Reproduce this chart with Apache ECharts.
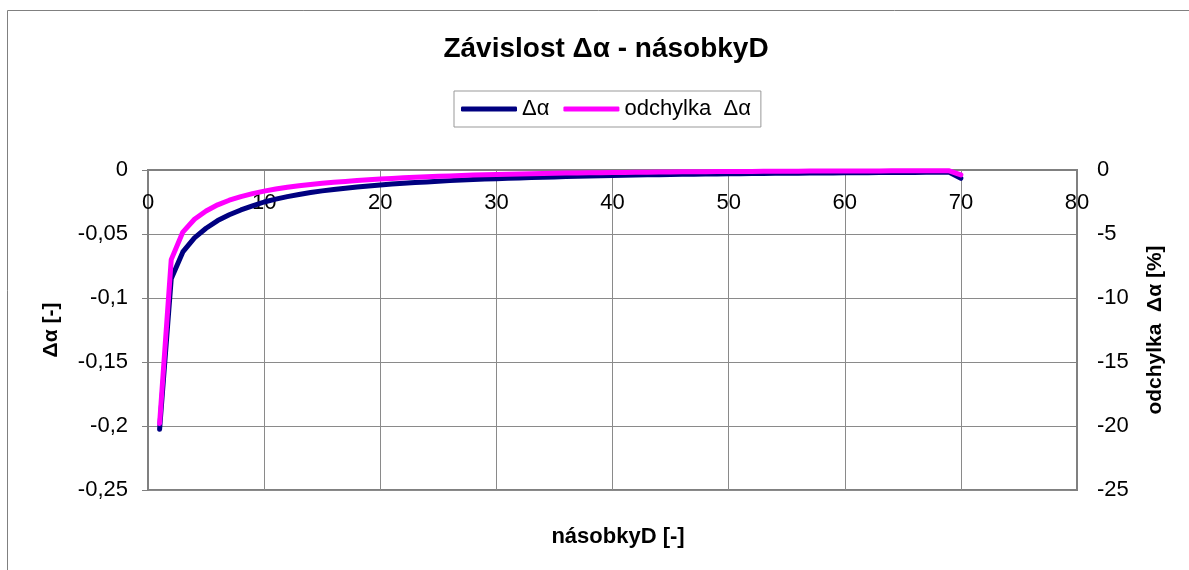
<!DOCTYPE html>
<html>
<head>
<meta charset="utf-8">
<script src="https://cdn.jsdelivr.net/npm/echarts@6/dist/echarts.min.js"></script>
<style>
  html, body { margin: 0; padding: 0; background: #fff; }
  #chart { width: 1189px; height: 570px; }
</style>
</head>
<body>
<div id="chart"></div>
<script>
const FONT = '"Liberation Sans", Arial, sans-serif';

const nasobkyD = [
  1, 2, 3, 4, 5, 6, 7, 8, 9, 10, 11, 12, 13, 14, 15, 16, 17, 18, 19, 20,
  21, 22, 23, 24, 25, 26, 27, 28, 29, 30, 31, 32, 33, 34, 35, 36, 37, 38, 39, 40,
  41, 42, 43, 44, 45, 46, 47, 48, 49, 50, 51, 52, 53, 54, 55, 56, 57, 58, 59, 60,
  61, 62, 63, 64, 65, 66, 67, 68, 69, 70
];

const deltaAlpha = [
  -0.2025, -0.085, -0.064, -0.053, -0.0455, -0.0395, -0.035, -0.0312, -0.028, -0.025,
  -0.0228, -0.0208, -0.0191, -0.0176, -0.0163, -0.0152, -0.0142, -0.0133, -0.0125, -0.0117,
  -0.011, -0.0104, -0.0098, -0.0093, -0.0088, -0.0083, -0.0079, -0.0075, -0.0071, -0.0068,
  -0.0065, -0.0062, -0.0059, -0.0056, -0.0054, -0.0051, -0.0049, -0.0047, -0.0045, -0.0043,
  -0.0041, -0.004, -0.0038, -0.0037, -0.0035, -0.0034, -0.0033, -0.0032, -0.0031, -0.003,
  -0.0029, -0.0028, -0.0027, -0.0026, -0.0025, -0.0025, -0.0024, -0.0023, -0.0023, -0.0022,
  -0.0021, -0.0021, -0.002, -0.002, -0.0019, -0.0019, -0.0018, -0.0018, -0.0018, -0.0065
];

// odchylka v procentech
const odchylka = [
  -19.8, -7.0, -4.85, -3.85, -3.2, -2.72, -2.36, -2.08, -1.85, -1.65,
  -1.49, -1.35, -1.23, -1.13, -1.04, -0.96, -0.89, -0.82, -0.76, -0.71,
  -0.66, -0.61, -0.57, -0.53, -0.49, -0.46, -0.43, -0.4, -0.37, -0.35,
  -0.33, -0.31, -0.29, -0.27, -0.26, -0.24, -0.23, -0.22, -0.21, -0.2,
  -0.19, -0.18, -0.17, -0.16, -0.15, -0.145, -0.14, -0.13, -0.125, -0.12,
  -0.115, -0.11, -0.105, -0.1, -0.095, -0.09, -0.087, -0.084, -0.081, -0.078,
  -0.075, -0.072, -0.07, -0.068, -0.066, -0.064, -0.062, -0.06, -0.06, -0.38
];

const chart = echarts.init(document.getElementById("chart"));

const gridColor = "#8a8a8a";
const axisColor = "#808080";

function commaLabel(v) {
  return String(+Number(v).toFixed(2)).replace(".", ",");
}

chart.setOption({
  animation: false,
  backgroundColor: "#fff",
  textStyle: { fontFamily: FONT },
  graphic: [
    {
      type: "rect",
      shape: { x: 7.5, y: 10.5, width: 1400, height: 800 },
      style: { fill: "none", stroke: "#808080", lineWidth: 1 },
      silent: true,
    },
  ],
  title: [
    {
      text: "Závislost Δα - násobkyD",
      left: 601,
      textAlign: "center",
      top: 30,
      textStyle: { fontFamily: FONT, fontSize: 28, fontWeight: "bold", color: "#000" },
    },
    {
      text: "násobkyD [-]",
      left: 613,
      textAlign: "center",
      top: 521,
      textStyle: { fontFamily: FONT, fontSize: 22, fontWeight: "bold", color: "#000" },
    },
  ],
  legend: {
    left: 454,
    top: 91,
    padding: [7, 10, 7, 7],
    itemGap: 14,
    itemWidth: 56,
    itemHeight: 5,
    icon: "roundRect",
    borderColor: "#999",
    borderWidth: 1,
    textStyle: { fontFamily: FONT, fontSize: 22, color: "#000" },
    data: ["Δα", "odchylka  Δα"],
  },
  grid: {
    left: 148,
    right: 112,
    top: 170,
    bottom: 80,
    show: true,
    borderColor: axisColor,
    borderWidth: 2,
  },
  xAxis: {
    type: "value",
    position: "top",
    min: 0,
    max: 80,
    interval: 10,
    axisLine: { show: true, lineStyle: { color: axisColor, width: 2 } },
    axisTick: { show: false },
    axisLabel: {
      inside: true,
      margin: 22,
      showMinLabel: true,
      showMaxLabel: true,
      fontFamily: FONT,
      fontSize: 22,
      color: "#000",
    },
    splitLine: { show: true, lineStyle: { color: gridColor, width: 1 } },
  },
  yAxis: [
    {
      type: "value",
      min: -0.25,
      max: 0,
      interval: 0.05,
      name: "Δα [-]",
      nameLocation: "middle",
      nameGap: 86,
      nameTextStyle: { fontFamily: FONT, fontSize: 21, fontWeight: "bold", color: "#000" },
      axisLine: { show: true, lineStyle: { color: axisColor, width: 2 } },
      axisTick: { show: true, length: 6, lineStyle: { color: axisColor, width: 1 } },
      axisLabel: {
        margin: 20,
        fontFamily: FONT,
        fontSize: 22,
        color: "#000",
        formatter: commaLabel,
      },
      splitLine: { show: true, lineStyle: { color: gridColor, width: 1 } },
    },
    {
      type: "value",
      min: -25,
      max: 0,
      interval: 5,
      position: "right",
      name: "odchylka  Δα [%]",
      nameLocation: "middle",
      nameGap: 68,
      nameTextStyle: { fontFamily: FONT, fontSize: 21, fontWeight: "bold", color: "#000" },
      axisLine: { show: true, lineStyle: { color: axisColor, width: 2 } },
      axisTick: { show: true, inside: true, length: 7, lineStyle: { color: axisColor, width: 1 } },
      axisLabel: {
        margin: 20,
        fontFamily: FONT,
        fontSize: 22,
        color: "#000",
      },
      splitLine: { show: false },
    },
  ],
  series: [
    {
      name: "Δα",
      type: "line",
      yAxisIndex: 0,
      data: nasobkyD.map((x, i) => [x, deltaAlpha[i]]),
      showSymbol: false,
      lineStyle: { color: "#000080", width: 5, cap: "round", join: "round" },
      itemStyle: { color: "#000080" },
    },
    {
      name: "odchylka  Δα",
      type: "line",
      yAxisIndex: 1,
      data: nasobkyD.map((x, i) => [x, odchylka[i]]),
      showSymbol: false,
      lineStyle: { color: "#ff00ff", width: 5, cap: "round", join: "round" },
      itemStyle: { color: "#ff00ff" },
    },
  ],
});
</script>
</body>
</html>
